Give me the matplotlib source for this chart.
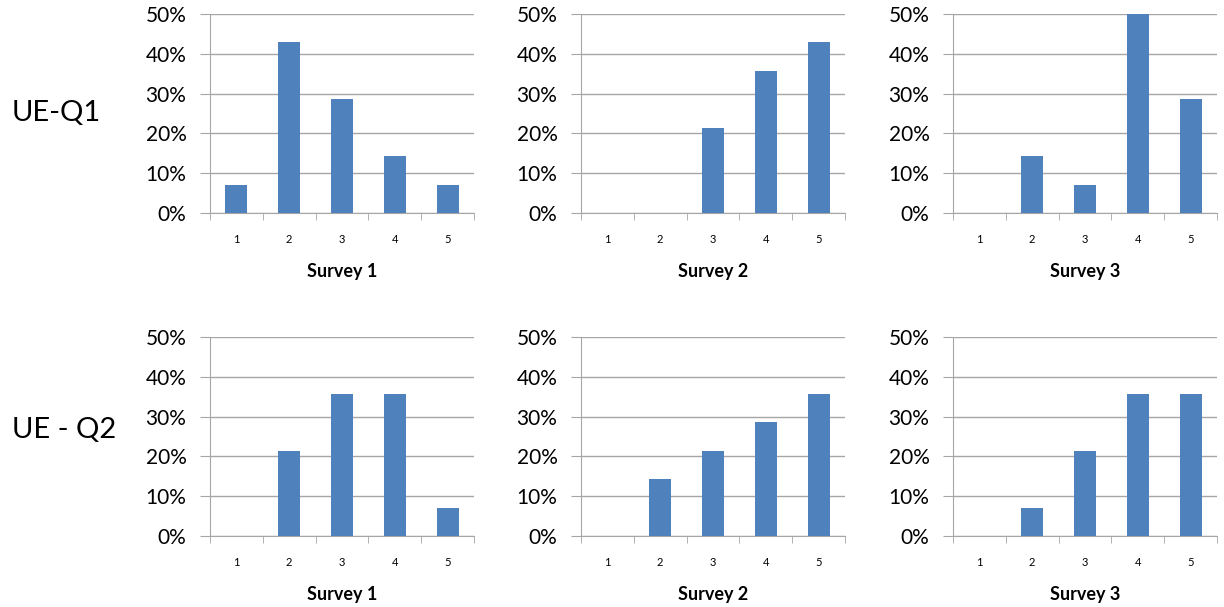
import matplotlib
matplotlib.use("Agg")
import matplotlib.pyplot as plt
from matplotlib.ticker import FuncFormatter, FixedLocator

categories = ["1", "2", "3", "4", "5"]
row_labels = ["UE-Q1", "UE - Q2"]
survey_titles = ["Survey 1", "Survey 2", "Survey 3"]

q1_survey1 = [7.1, 42.9, 28.6, 14.3, 7.1]
q1_survey2 = [0.0, 0.0, 21.4, 35.7, 42.9]
q1_survey3 = [0.0, 14.3, 7.1, 50.0, 28.6]
q2_survey1 = [0.0, 21.4, 35.7, 35.7, 7.1]
q2_survey2 = [0.0, 14.3, 21.4, 28.6, 35.7]
q2_survey3 = [0.0, 7.1, 21.4, 35.7, 35.7]

data = [[q1_survey1, q1_survey2, q1_survey3],
        [q2_survey1, q2_survey2, q2_survey3]]

plt.rcParams['font.family'] = ['Lato', 'DejaVu Sans']

W, H = 1224, 607
fig = plt.figure(figsize=(W / 100, H / 100), dpi=100)

col_left = [210, 581, 953]
ax_w = 264
row_top = [14, 337]
ax_h = 199
row_label_y = [113, 430]

bar_color = "#4F81BD"
grid_color = "#A6A6A6"

for r in range(2):
    for c in range(3):
        x0 = col_left[c]
        y0 = row_top[r]
        ax = fig.add_axes([x0 / W, 1 - (y0 + ax_h) / H, ax_w / W, ax_h / H])
        vals = data[r][c]
        xs = list(range(len(categories)))
        ax.bar(xs, vals, width=0.42, color=bar_color, zorder=3)
        ax.set_xlim(-0.5, len(categories) - 0.5)
        ax.set_ylim(0, 50)
        ax.set_yticks([0, 10, 20, 30, 40, 50])
        ax.yaxis.set_major_formatter(FuncFormatter(lambda v, p: f"{int(v)}%"))
        ax.grid(axis='y', color=grid_color, linewidth=1, zorder=0)
        ax.set_xticks(xs)
        ax.set_xticklabels(categories, fontsize=8)
        ax.tick_params(axis='x', length=0, pad=15)
        ax.xaxis.set_minor_locator(FixedLocator([i - 0.5 for i in range(len(categories) + 1)]))
        ax.tick_params(axis='x', which='minor', length=5, color=grid_color, direction='out')
        ax.tick_params(axis='y', length=7, color=grid_color, labelsize=15, pad=10, direction='out')
        for s in ['top', 'right']:
            ax.spines[s].set_visible(False)
        ax.spines['left'].set_color(grid_color)
        ax.spines['bottom'].set_color(grid_color)
        ax.set_xlabel(survey_titles[c], fontsize=13, fontweight='bold', labelpad=13)
    fig.text(12 / W, 1 - row_label_y[r] / H, row_labels[r], fontsize=21,
             ha='left', va='center')

fig.savefig("out.png", dpi=100)
